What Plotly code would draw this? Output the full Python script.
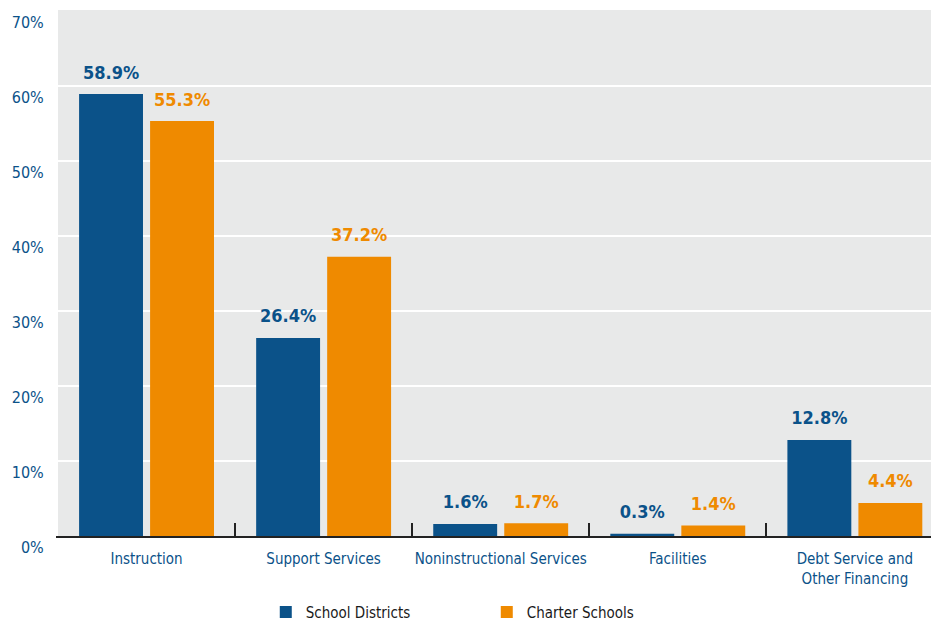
import plotly.graph_objects as go

categories = ["Instruction", "Support Services", "Noninstructional Services",
              "Facilities", "Debt Service and<br>Other Financing"]
school_districts = [58.9, 26.4, 1.6, 0.3, 12.8]
charter_schools = [55.3, 37.2, 1.7, 1.4, 4.4]
y_ticks = [0, 10, 20, 30, 40, 50, 60, 70]
y_tick_labels = [f"{v}%" for v in y_ticks]

BLUE = "#0b5289"
ORANGE = "#ef8a00"
FONT = "Liberation Sans Narrow, Arial Narrow, DejaVu Sans Condensed, sans-serif"

fig = go.Figure()
for name, vals, col in [("School Districts", school_districts, BLUE),
                        ("Charter Schools", charter_schools, ORANGE)]:
    fig.add_trace(go.Bar(
        name=name, x=categories, y=vals,
        marker=dict(color=col, line=dict(width=0)),
        hoverinfo="skip",
    ))
for name, vals, col in [("School Districts", school_districts, BLUE),
                        ("Charter Schools", charter_schools, ORANGE)]:
    fig.add_trace(go.Scatter(
        name=name, x=categories, y=vals, mode="markers+text",
        marker=dict(size=16, opacity=0, color=col),
        text=[f"{v:.1f}%" for v in vals], textposition="top center",
        textfont=dict(family=FONT, size=18, color=col, weight="bold"),
        showlegend=False, hoverinfo="skip", cliponaxis=False,
    ))

fig.update_layout(
    width=931, height=624,
    margin=dict(l=58, r=0, t=10, b=88, autoexpand=False),
    paper_bgcolor="white", plot_bgcolor="#e8e9e9",
    barmode="group", bargap=0.198, bargroupgap=0.1,
    scattermode="group", scattergap=0.198,
    font=dict(family=FONT, color=BLUE),
    showlegend=True,
    legend=dict(orientation="h", x=0.238, xanchor="left", y=-0.145, yanchor="middle",
                font=dict(family=FONT, size=15, color="#1a1a1a"),
                entrywidth=176, bgcolor="rgba(0,0,0,0)"),
)
fig.update_xaxes(
    range=[-0.5, 4.43], showgrid=False, showline=True, linecolor="#222", linewidth=2,
    ticks="inside", tickson="boundaries", ticklen=13, tickwidth=2, tickcolor="#222",
    tickfont=dict(family=FONT, size=15, color=BLUE), ticklabelstandoff=8,
    tickangle=0, automargin=False, fixedrange=True,
)
fig.update_yaxes(
    range=[0, 70.1], tickvals=y_ticks, ticktext=y_tick_labels,
    showgrid=True, gridcolor="white", gridwidth=1.5, zeroline=False,
    showline=True, linecolor="white", linewidth=2,
    ticklabelposition="outside bottom",
    tickfont=dict(family=FONT, size=16, color=BLUE), ticklabelstandoff=9,
    automargin=False, fixedrange=True,
)

fig.write_html("out.html", config=dict(displayModeBar=False))
